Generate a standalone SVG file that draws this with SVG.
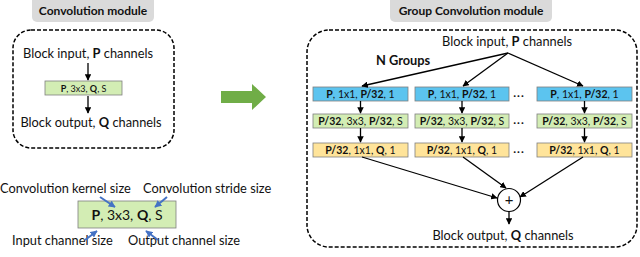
<svg xmlns="http://www.w3.org/2000/svg" width="640" height="257" viewBox="0 0 640 257">
<defs>
<marker id="ah" viewBox="0 0 10 10" refX="9" refY="5" markerWidth="6.5" markerHeight="6.5" markerUnits="userSpaceOnUse" orient="auto"><path d="M0,0 L10,5 L0,10 z" fill="#000"/></marker>
<marker id="bh" viewBox="0 0 10 10" refX="9" refY="5" markerWidth="7" markerHeight="7" markerUnits="userSpaceOnUse" orient="auto"><path d="M0,0 L10,5 L0,10 z" fill="#4472C4"/></marker>
<style>
text{font-family:Lato,"Liberation Sans",sans-serif;fill:#111}
.t{font-size:12.8px}
.bx{font-size:10.5px}
.title{font-size:12px;font-weight:bold}
.b{font-weight:bold}
.dots{font-size:12px;font-weight:bold;letter-spacing:1px}
.dash{fill:none;stroke:#000;stroke-width:1.5;stroke-dasharray:4 2}
.blue{fill:#5CC4EF;stroke:#7f7f7f;stroke-width:0.8}
.green{fill:#D3EDB4;stroke:#7f7f7f;stroke-width:0.8}
.yel{fill:#FFE49A;stroke:#7f7f7f;stroke-width:0.8}
.ln{stroke:#000;stroke-width:1.3;fill:none;marker-end:url(#ah)}
.bl{stroke:#4472C4;stroke-width:2;fill:none;marker-end:url(#bh)}
.tb{fill:#DADADA}
</style>
</defs>
<rect width="640" height="257" fill="#fff"/>

<g id="title-left"><rect class="tb" x="32" y="-6" width="122" height="28" rx="5"/><text class="title" x="93" y="15" text-anchor="middle">Convolution module</text></g>
<g id="title-right"><rect class="tb" x="390" y="-6" width="162" height="28" rx="5"/><text class="title" x="471" y="15" text-anchor="middle">Group Convolution module</text></g>

<g id="conv-module">
<rect class="dash" x="13" y="30" width="161" height="118" rx="18"/>
<text class="t" x="88" y="58" text-anchor="middle">Block input, <tspan class="b">P</tspan> channels</text>
<rect class="green" x="45" y="81" width="77" height="14"/>
<text class="bx" x="83.5" y="92" text-anchor="middle" style="font-size:9px"><tspan class="b">P</tspan>, 3x3, <tspan class="b">Q</tspan>, S</text>
<text class="t" x="91" y="127" text-anchor="middle">Block output, <tspan class="b">Q</tspan> channels</text>
</g>

<g id="legend">
<rect class="green" x="78" y="201" width="98" height="27"/>
<text x="127" y="220" text-anchor="middle" style="font-size:14px"><tspan class="b">P</tspan>, 3x3, <tspan class="b">Q</tspan>, S</text>
<text class="t" x="0" y="193">Convolution kernel size</text>
<text class="t" x="143" y="193">Convolution stride size</text>
<text class="t" x="12" y="245">Input channel size</text>
<text class="t" x="128" y="245">Output channel size</text>
</g>

<g id="green-arrow"><polygon points="221,91 252,91 252,84 266,97 252,110 252,103 221,103" fill="#70AD47"/></g>

<g id="group-module">
<rect class="dash" x="307" y="30" width="330" height="217" rx="22"/>
<text class="t" x="507" y="46" text-anchor="middle">Block input, <tspan class="b">P</tspan> channels</text>
<text class="t b" x="376" y="65">N Groups</text>
</g>

<g id="col1">
<rect class="blue" x="313" y="87" width="95" height="14"/>
<text class="bx" x="360.5" y="98" text-anchor="middle"><tspan class="b">P</tspan>, 1x1, <tspan class="b">P/32</tspan>, 1</text>
<rect class="green" x="313" y="114" width="95" height="14"/>
<text class="bx" x="360.5" y="125" text-anchor="middle"><tspan class="b">P/32</tspan>, 3x3, <tspan class="b">P/32</tspan>, S</text>
<rect class="yel" x="313" y="143" width="95" height="14"/>
<text class="bx" x="360.5" y="154" text-anchor="middle"><tspan class="b">P/32</tspan>, 1x1, <tspan class="b">Q</tspan>, 1</text>
</g>
<g id="col2">
<rect class="blue" x="415" y="87" width="94" height="14"/>
<text class="bx" x="462" y="98" text-anchor="middle"><tspan class="b">P</tspan>, 1x1, <tspan class="b">P/32</tspan>, 1</text>
<rect class="green" x="415" y="114" width="94" height="14"/>
<text class="bx" x="462" y="125" text-anchor="middle"><tspan class="b">P/32</tspan>, 3x3, <tspan class="b">P/32</tspan>, S</text>
<rect class="yel" x="415" y="143" width="94" height="14"/>
<text class="bx" x="462" y="154" text-anchor="middle"><tspan class="b">P/32</tspan>, 1x1, <tspan class="b">Q</tspan>, 1</text>
</g>
<g id="dots">
<text class="dots" x="519" y="97" text-anchor="middle">...</text>
<text class="dots" x="519" y="124" text-anchor="middle">...</text>
<text class="dots" x="519" y="153" text-anchor="middle">...</text>
</g>
<g id="col3">
<rect class="blue" x="537" y="87" width="95" height="14"/>
<text class="bx" x="584.5" y="98" text-anchor="middle"><tspan class="b">P</tspan>, 1x1, <tspan class="b">P/32</tspan>, 1</text>
<rect class="green" x="537" y="114" width="95" height="14"/>
<text class="bx" x="584.5" y="125" text-anchor="middle"><tspan class="b">P/32</tspan>, 3x3, <tspan class="b">P/32</tspan>, S</text>
<rect class="yel" x="537" y="143" width="95" height="14"/>
<text class="bx" x="584.5" y="154" text-anchor="middle"><tspan class="b">P/32</tspan>, 1x1, <tspan class="b">Q</tspan>, 1</text>
</g>
<g id="sum"><circle cx="509" cy="200" r="11.5" fill="#fff" stroke="#000" stroke-width="1.2"/><text x="509" y="205" text-anchor="middle" style="font-size:15px">+</text></g>
<g id="output"><text class="t" x="503" y="240" text-anchor="middle">Block output, <tspan class="b">Q</tspan> channels</text></g>

<g id="connectors">
<line class="ln" x1="88" y1="63" x2="88" y2="80"/>
<line class="ln" x1="88" y1="96" x2="88" y2="113"/>
<line class="bl" x1="100" y1="197" x2="115" y2="207"/>
<line class="bl" x1="167" y1="197" x2="155" y2="207"/>
<line class="bl" x1="85" y1="240" x2="97" y2="231"/>
<line class="bl" x1="158" y1="240" x2="146" y2="231"/>
<line class="ln" x1="508" y1="53" x2="362" y2="86"/>
<line class="ln" x1="508" y1="53" x2="463" y2="86"/>
<line class="ln" x1="508" y1="53" x2="583" y2="86"/>
<line class="ln" x1="360.5" y1="101" x2="360.5" y2="113"/>
<line class="ln" x1="360.5" y1="128" x2="360.5" y2="142"/>
<line class="ln" x1="462" y1="101" x2="462" y2="113"/>
<line class="ln" x1="462" y1="128" x2="462" y2="142"/>
<line class="ln" x1="584.5" y1="101" x2="584.5" y2="113"/>
<line class="ln" x1="584.5" y1="128" x2="584.5" y2="142"/>
<line class="ln" x1="362" y1="157" x2="497" y2="198"/>
<line class="ln" x1="463" y1="157" x2="506" y2="188"/>
<line class="ln" x1="583" y1="157" x2="520" y2="197"/>
<line class="ln" x1="509" y1="211.5" x2="509" y2="224"/>
</g>
</svg>
